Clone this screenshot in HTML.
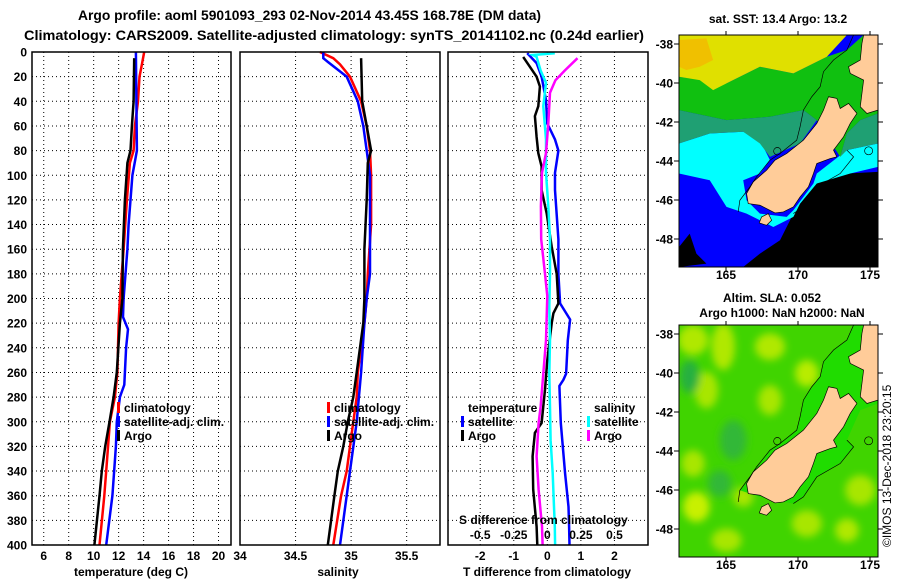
<!DOCTYPE html>
<html><head><meta charset="utf-8">
<style>
html,body{margin:0;padding:0;background:#fff;}
svg{display:block;font-family:"Liberation Sans",sans-serif;font-weight:bold;}
</style></head>
<body>
<svg id="fig" width="900" height="580" viewBox="0 0 900 580" xmlns="http://www.w3.org/2000/svg">
<rect width="900" height="580" fill="#fff"/>
<text x="78" y="20" font-size="13.5" textLength="463" lengthAdjust="spacingAndGlyphs">Argo profile: aoml 5901093_293 02-Nov-2014 43.45S 168.78E (DM data)</text>
<text x="24" y="40" font-size="13.5" textLength="620" lengthAdjust="spacingAndGlyphs">Climatology: CARS2009. Satellite-adjusted climatology: synTS_20141102.nc (0.24d earlier)</text>
<g id="plots"></g>

<!-- Top map -->
<g>
<text x="778" y="23" font-size="12" text-anchor="middle">sat. SST: 13.4 Argo: 13.2</text>
<svg x="679" y="35" width="199" height="232" viewBox="58 105 595 695" preserveAspectRatio="none">
<rect x="58" y="105" width="595" height="695" fill="#0000ff"/>
<polygon fill="#000" points="400,640 420,610 470,545 560,520 653,515 653,800 250,800 300,760 360,720"/>
<polygon fill="#000" points="58,740 90,700 110,760 140,790 58,800"/>
<polygon fill="#00ffff" points="58,430 150,400 250,395 300,420 330,480 300,520 250,540 260,600 300,640 380,650 400,630 460,550 470,520 560,450 653,430 653,500 570,520 470,550 420,610 400,650 340,680 300,660 260,640 200,620 150,540 58,520"/>
<polygon fill="#1fa073" points="58,330 200,360 330,350 430,330 470,360 420,430 330,470 300,430 250,395 150,400 58,430"/>
<polygon fill="#1fa073" points="560,400 600,360 653,340 653,430 560,450 540,470"/>
<polygon fill="#10c010" points="58,230 200,250 300,200 400,220 500,170 560,150 610,105 653,105 653,340 600,360 560,400 540,470 470,360 430,330 330,350 200,360 58,330"/>
<polygon fill="#e0e000" points="58,105 560,105 500,170 400,220 300,200 200,250 160,270 120,240 58,230"/>
<polygon fill="#f0c000" points="58,120 140,115 160,180 120,200 80,210 58,200"/>
<polygon fill="#ffcc99" stroke="#000" stroke-width="2" points="505,290 530,295 540,325 565,310 590,340 570,370 550,410 520,450 530,470 510,475 470,490 460,520 445,560 420,590 400,620 370,635 345,638 300,615 265,610 260,580 280,545 320,510 345,480 380,460 430,420 470,370 490,330"/>
<polygon fill="#ffcc99" stroke="#000" stroke-width="2" points="610,105 653,105 653,330 620,340 600,320 610,240 570,220 565,200 600,180 605,130"/>
<polygon fill="#ffcc99" stroke="#000" stroke-width="2" points="305,650 325,640 335,660 320,675 298,668"/>
<path d="M580,105 L560,150 520,180 490,215 480,260 455,290 430,330 420,380 410,420 360,460 330,480 290,530 270,560 240,600 235,635 M560,450 L580,470 540,520 470,560 430,620 400,640" fill="none" stroke="#000" stroke-width="2"/>
<circle cx="352" cy="453" r="11" fill="none" stroke="#000" stroke-width="2"/>
<circle cx="625" cy="452" r="12" fill="none" stroke="#000" stroke-width="2"/>
</svg>
<rect x="679" y="35" width="199" height="232" fill="none" stroke="#000" stroke-width="1"/>
</g>

<!-- Bottom map -->
<g>
<text x="772" y="302" font-size="12" text-anchor="middle">Altim. SLA: 0.052</text>
<text x="782" y="317" font-size="12" text-anchor="middle">Argo h1000: NaN h2000: NaN</text>
<svg x="679" y="325" width="199" height="232" viewBox="58 105 595 695" preserveAspectRatio="none">
<defs><filter id="bl"><feGaussianBlur stdDeviation="12"/></filter></defs>
<rect x="58" y="105" width="595" height="695" fill="#40d400"/>
<g filter="url(#bl)">
<ellipse cx="100" cy="150" rx="45" ry="45" fill="#b0e800"/>
<ellipse cx="190" cy="170" rx="35" ry="70" fill="#b0e800"/>
<ellipse cx="140" cy="300" rx="35" ry="55" fill="#a8e600"/>
<ellipse cx="330" cy="170" rx="45" ry="40" fill="#b0e800"/>
<ellipse cx="440" cy="250" rx="35" ry="40" fill="#b8ec00"/>
<ellipse cx="330" cy="330" rx="35" ry="45" fill="#a8e600"/>
<ellipse cx="110" cy="650" rx="40" ry="45" fill="#c8f000"/>
<ellipse cx="100" cy="520" rx="35" ry="40" fill="#a8e600"/>
<ellipse cx="440" cy="700" rx="45" ry="40" fill="#a8e600"/>
<ellipse cx="600" cy="600" rx="45" ry="45" fill="#a8e600"/>
<ellipse cx="200" cy="750" rx="45" ry="35" fill="#a8e600"/>
<ellipse cx="250" cy="620" rx="30" ry="30" fill="#a8e600"/>
<ellipse cx="560" cy="720" rx="35" ry="35" fill="#b0e800"/>
<ellipse cx="90" cy="260" rx="30" ry="50" fill="#28b040"/>
<ellipse cx="220" cy="450" rx="40" ry="60" fill="#30b838"/>
<ellipse cx="180" cy="580" rx="35" ry="40" fill="#30b838"/>
</g>
<polygon fill="#20dc00" points="580,105 560,150 520,180 490,215 480,260 455,290 430,330 420,380 410,420 360,460 330,480 290,530 270,560 240,600 300,620 400,640 430,620 470,560 540,520 580,470 560,450 600,360 653,340 653,105"/>
<polygon fill="#ffcc99" stroke="#000" stroke-width="2" points="505,290 530,295 540,325 565,310 590,340 570,370 550,410 520,450 530,470 510,475 470,490 460,520 445,560 420,590 400,620 370,635 345,638 300,615 265,610 260,580 280,545 320,510 345,480 380,460 430,420 470,370 490,330"/>
<polygon fill="#ffcc99" stroke="#000" stroke-width="2" points="610,105 653,105 653,330 620,340 600,320 610,240 570,220 565,200 600,180 605,130"/>
<polygon fill="#ffcc99" stroke="#000" stroke-width="2" points="305,650 325,640 335,660 320,675 298,668"/>
<path d="M580,105 L560,150 520,180 490,215 480,260 455,290 430,330 420,380 410,420 360,460 330,480 290,530 270,560 240,600 235,635 M560,450 L580,470 540,520 470,560 430,620 400,640" fill="none" stroke="#000" stroke-width="2"/>
<circle cx="352" cy="453" r="11" fill="none" stroke="#000" stroke-width="2"/>
<circle cx="625" cy="452" r="12" fill="none" stroke="#000" stroke-width="2"/>
</svg>
<rect x="679" y="325" width="199" height="232" fill="none" stroke="#000" stroke-width="1"/>
</g>
<g id="mapaxes"></g>
<text transform="translate(891,547) rotate(-90)" font-size="12" font-weight="normal">©IMOS 13-Dec-2018 23:20:15</text>
</svg>
<script>
// ===== data =====
const depthTicks=[0,20,40,60,80,100,120,140,160,180,200,220,240,260,280,300,320,340,360,380,400];
const tTicks=[6,8,10,12,14,16,18,20];
const sTicks=[34,34.5,35,35.5];
const sTickLabels=["34","34.5","35","35.5"];
const dTTicks=[-2,-1,0,1,2];
const dSTicks=[-0.5,-0.25,0,0.25,0.5];

const tClimDepth=[0,10,20,40,60,80,90,120,160,200,220,260,280,300,340,360,400];
const tClimVal=[14.05,13.86,13.67,13.55,13.3,13.2,12.9,12.66,12.4,12.1,12.0,11.9,11.7,11.3,11.0,10.85,10.47];
const tSatDepth=[0,80,100,140,160,200,215,225,240,270,280,300,320,360,400];
const tSatVal=[13.38,13.46,13.1,12.8,12.7,12.4,12.35,12.75,12.6,12.45,12.1,11.85,11.78,11.5,11.0];
const tArgoDepth=[5,40,60,80,90,120,160,200,220,260,280,300,320,340,360,400];
const tArgoVal=[13.25,13.2,13.06,12.95,12.7,12.5,12.34,12.3,12.1,11.85,11.6,11.27,10.92,10.65,10.47,10.06];

const sClimDepth=[0,5,10,20,40,60,80,100,140,180,200,220,260,280,300,320,340,360,400];
const sClimVal=[34.72,34.84,34.9,34.99,35.09,35.14,35.17,35.18,35.18,35.15,35.14,35.12,35.06,35.05,35.02,34.99,34.96,34.91,34.84];
const sSatDepth=[0,5,8,20,40,60,80,100,140,180,200,220,260,300,340,360,400];
const sSatVal=[34.75,34.75,34.79,34.96,35.06,35.11,35.14,35.17,35.17,35.17,35.14,35.12,35.09,35.05,34.99,34.96,34.9];
const sArgoDepth=[5,40,60,80,90,120,160,200,220,260,280,300,320,340,360,400];
const sArgoVal=[35.09,35.1,35.14,35.18,35.15,35.14,35.12,35.12,35.11,35.05,35.02,34.97,34.93,34.88,34.85,34.79];

const dTSatDepth=[1,9,20,39,58,71,80,98,112,125,152,180,204,217,234,261,266,271,301,342,369,385,400];
const dTSatVal=[-0.6,-0.32,-0.17,-0.04,0,0.23,0.33,0.23,0.23,0.26,0.33,0.33,0.38,0.68,0.61,0.56,0.48,0.36,0.4,0.53,0.63,0.65,0.66];
const dTArgoDepth=[4,12,20,28,44,52,69,82,93,112,131,158,180,204,212,220,250,274,301,309,328,355,385,400];
const dTArgoVal=[-0.72,-0.52,-0.32,-0.22,-0.27,-0.37,-0.32,-0.27,-0.17,-0.17,-0.02,0.13,0.28,0.33,0.18,0.13,0,-0.07,-0.17,-0.37,-0.44,-0.42,-0.32,-0.3];
const dSSatDepth=[1,2.4,4,15,25,44,71,98,125,152,180,207,234,261,288,315,342,369,385,400];
const dSSatVal=[0.056,-0.11,-0.08,-0.05,-0.01,-0.03,-0.01,-0.01,0.007,0.02,0.02,0.015,0.02,0.015,0.02,0.024,0.04,0.05,0.056,0.058];
const dSArgoDepth=[5,15,23,33,58,82,98,125,152,180,198,234,261,288,301,328,355,385,400];
const dSArgoVal=[0.225,0.13,0.06,0.02,0.007,-0.01,-0.04,-0.048,-0.046,-0.017,0,-0.01,-0.03,-0.05,-0.065,-0.08,-0.065,-0.04,-0.035];

const latTicks=[-38,-40,-42,-44,-46,-48];
const lonTicks=[165,170,175];

// ===== drawing =====
const NS="http://www.w3.org/2000/svg";
const plots=document.getElementById('plots');
function mk(tag,attrs,parent){const e=document.createElementNS(NS,tag);for(const k in attrs)e.setAttribute(k,attrs[k]);(parent||plots).appendChild(e);return e;}
const Y0=52,Y1=545;
function yD(d){return Y0+d/400*(Y1-Y0);}

function panel(name,x0,x1,xmin,xmax){
  const g=mk('g',{});
  
  
  const sx=v=>x0+(v-xmin)/(xmax-xmin)*(x1-x0);
  return {g,sx,x0,x1};
}
function frame(p){
  const r=mk('rect',{x:p.x0,y:Y0,width:p.x1-p.x0,height:Y1-Y0,fill:'none',stroke:'#000','stroke-width':1.5},p.g);
  
  
}
function hgrid(p){
  depthTicks.forEach(d=>{
    if(d===0||d===400)return;
    const l=mk('line',{x1:p.x0,x2:p.x1,y1:yD(d),y2:yD(d),stroke:'#000','stroke-width':1,'stroke-dasharray':'1 3'},p.g);
    
    
  });
}
function vgrid(p,vals){
  vals.forEach(v=>{
    const x=p.sx(v);
    const l=mk('line',{x1:x,x2:x,y1:Y0,y2:Y1,stroke:'#000','stroke-width':1,'stroke-dasharray':'1 3'},p.g);
    
    
  });
}
function series(p,sx,depths,vals,color,name){
  const pts=depths.map((d,i)=>sx(vals[i]).toFixed(1)+','+yD(d).toFixed(1)).join(' ');
  const l=mk('polyline',{points:pts,fill:'none',stroke:color,'stroke-width':2.5},p.g);
  
  
}
function text(p,x,y,s,anchor,name,size){
  const t=mk('text',{x:x,y:y,'font-size':size||12,'text-anchor':anchor||'start'},p.g);
  t.textContent=s;
  
  
  return t;
}
function legendItem(p,x,y,color,label,name){
  const r=mk('rect',{x:x,y:y-10,width:3,height:11,fill:color},p.g);
  
  
  text(p,x+7,y,label,'start',name);
}

// Panel 1: temperature
const p1=panel('temperature-panel',32,231,5.06,21.0);
hgrid(p1);vgrid(p1,tTicks);
series(p1,p1.sx,tClimDepth,tClimVal,'#ff0000','temp-climatology-line');
series(p1,p1.sx,tSatDepth,tSatVal,'#0000ff','temp-satellite-line');
series(p1,p1.sx,tArgoDepth,tArgoVal,'#000000','temp-argo-line');
frame(p1);
depthTicks.forEach(d=>text(p1,27,yD(d)+4.5,String(d),'end','depth-tick-label'));
tTicks.forEach(v=>text(p1,p1.sx(v),560,String(v),'middle','temp-tick-label'));
text(p1,131,576,'temperature (deg C)','middle','temp-axis-title');
legendItem(p1,117,412,'#ff0000','climatology','legend-climatology');
legendItem(p1,117,426,'#0000ff','satellite-adj. clim.','legend-satellite');
legendItem(p1,117,440,'#000000','Argo','legend-argo');

// Panel 2: salinity
const p2=panel('salinity-panel',240,440,34,35.8);
hgrid(p2);vgrid(p2,sTicks.slice(1));
series(p2,p2.sx,sClimDepth,sClimVal,'#ff0000','sal-climatology-line');
series(p2,p2.sx,sSatDepth,sSatVal,'#0000ff','sal-satellite-line');
series(p2,p2.sx,sArgoDepth,sArgoVal,'#000000','sal-argo-line');
frame(p2);
sTicks.forEach((v,i)=>text(p2,p2.sx(v),560,sTickLabels[i],'middle','sal-tick-label'));
text(p2,338,576,'salinity','middle','sal-axis-title');
legendItem(p2,327,412,'#ff0000','climatology','legend-climatology');
legendItem(p2,327,426,'#0000ff','satellite-adj. clim.','legend-satellite');
legendItem(p2,327,440,'#000000','Argo','legend-argo');

// Panel 3: differences
const p3=panel('difference-panel',448,648,-2.96,3.0);
const sxS=v=>p3.sx(0)+v/0.5*(p3.sx(2)-p3.sx(0));
hgrid(p3);vgrid(p3,dTTicks);
series(p3,p3.sx,dTSatDepth,dTSatVal,'#0000ff','dT-satellite-line');
series(p3,p3.sx,dTArgoDepth,dTArgoVal,'#000000','dT-argo-line');
series(p3,sxS,dSSatDepth,dSSatVal,'#00ffff','dS-satellite-line');
series(p3,sxS,dSArgoDepth,dSArgoVal,'#ff00ff','dS-argo-line');
frame(p3);
dTTicks.forEach(v=>text(p3,p3.sx(v),560,String(v),'middle','dT-tick-label'));
text(p3,547,576,'T difference from climatology','middle','dT-axis-title');
text(p3,459,524,'S difference from climatology','start','dS-axis-title');
dSTicks.forEach(v=>text(p3,sxS(v),539,String(v),'middle','dS-tick-label'));
text(p3,468,412,'temperature','start','legend-temperature-heading');
legendItem(p3,461,426,'#0000ff','satellite','legend-t-satellite');
legendItem(p3,461,440,'#000000','Argo','legend-t-argo');
text(p3,594,412,'salinity','start','legend-salinity-heading');
legendItem(p3,587,426,'#00ffff','satellite','legend-s-satellite');
legendItem(p3,587,440,'#ff00ff','Argo','legend-s-argo');

// Map axes
const ma=document.getElementById('mapaxes');
[35,325].forEach(top=>{
  const g=mk('g',{},ma);
  
  
  const latY=l=>top+9+(-38-l)*19.5;
  latTicks.forEach(l=>{
    const t=mk('text',{x:673,y:latY(l)+4.5,'font-size':12,'text-anchor':'end'},g);
    t.textContent=String(l);
    
    
    mk('line',{x1:674,x2:679,y1:latY(l),y2:latY(l),stroke:'#000'},g);
    mk('line',{x1:878,x2:883,y1:latY(l),y2:latY(l),stroke:'#000'},g);
  });
  lonTicks.forEach(lo=>{
    const x=726+(lo-165)*14.4;
    const t=mk('text',{x:x,y:top+244,'font-size':12,'text-anchor':'middle'},g);
    t.textContent=String(lo);
    
    
    mk('line',{x1:x,x2:x,y1:top-4,y2:top,stroke:'#000'},g);
    mk('line',{x1:x,x2:x,y1:top+232,y2:top+236,stroke:'#000'},g);
  });
});
</script>
</body></html>
